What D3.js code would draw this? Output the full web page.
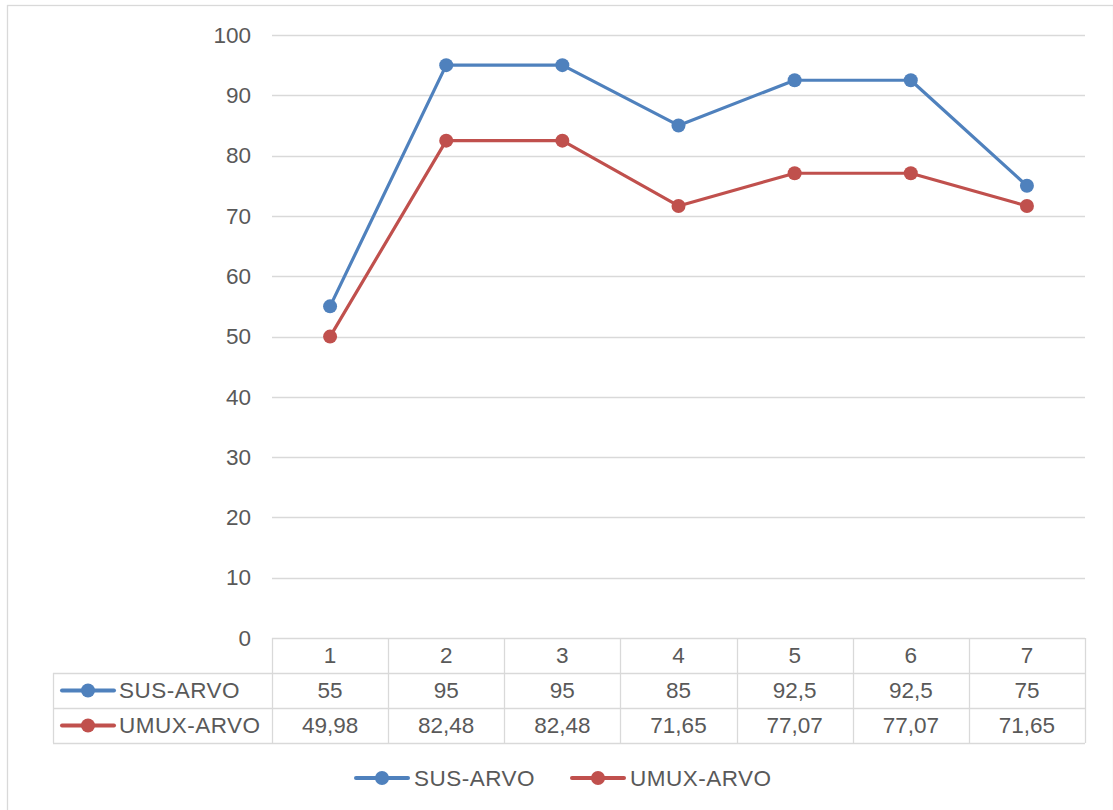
<!DOCTYPE html>
<html>
<head>
<meta charset="utf-8">
<script src="https://cdn.jsdelivr.net/npm/d3@7"></script>
<style>
  html, body { margin: 0; padding: 0; background: #fff; }
  svg { display: block; font-family: "Liberation Sans", Arial, sans-serif; }
</style>
</head>
<body>
<svg id="chart"></svg>
<script>
// data
const categories = ["1", "2", "3", "4", "5", "6", "7"];
const susValues = [55, 95, 95, 85, 92.5, 92.5, 75];
const umuxValues = [49.98, 82.48, 82.48, 71.65, 77.07, 77.07, 71.65];
const susLabels = ["55", "95", "95", "85", "92,5", "92,5", "75"];
const umuxLabels = ["49,98", "82,48", "82,48", "71,65", "77,07", "77,07", "71,65"];
const yTicks = [0, 10, 20, 30, 40, 50, 60, 70, 80, 90, 100];

const series = [
  { name: "SUS-ARVO", values: susValues, labels: susLabels, color: "#4F81BD" },
  { name: "UMUX-ARVO", values: umuxValues, labels: umuxLabels, color: "#C0504D" }
];

const W = 1113, H = 810;
const TEXT = "#595959", GRID = "#D9D9D9";
const FS = "22.5px";
const plot = { left: 272, right: 1085, top: 35, bottom: 638 };
const rowH = 35;
const tableLeft = 53;

const svg = d3.select("#chart").attr("width", W).attr("height", H);

// outer border
svg.append("rect")
  .attr("x", 7.5).attr("y", 5.5)
  .attr("width", W - 7).attr("height", H - 4)
  .attr("fill", "none").attr("stroke", GRID).attr("stroke-width", 1.3);

const x = d3.scaleBand().domain(categories).range([plot.left, plot.right]);
const y = d3.scaleLinear().domain([0, 100]).range([plot.bottom, plot.top]);

// gridlines
svg.append("g").selectAll("line")
  .data(yTicks.filter(d => d > 0))
  .join("line")
  .attr("x1", plot.left).attr("x2", plot.right)
  .attr("y1", d => Math.round(y(d)) + 0.5).attr("y2", d => Math.round(y(d)) + 0.5)
  .attr("stroke", GRID).attr("stroke-width", 1.3);

// y axis labels
const yAxis = d3.axisLeft(y).tickValues(yTicks).tickSize(0).tickPadding(21);
svg.append("g")
  .attr("transform", `translate(${plot.left},0)`)
  .call(yAxis)
  .call(g => g.select(".domain").remove())
  .call(g => g.selectAll("text").attr("fill", TEXT).style("font-size", FS)
    .attr("font-family", "Liberation Sans, Arial, sans-serif"));

// data table
const table = svg.append("g");
const colEdges = categories.map(c => x(c)).concat([plot.right]);
const tableBottom = plot.bottom + rowH * 3;

// vertical lines
table.selectAll("line.v")
  .data(colEdges)
  .join("line")
  .attr("class", "v")
  .attr("x1", d => Math.round(d) + 0.5).attr("x2", d => Math.round(d) + 0.5)
  .attr("y1", plot.bottom).attr("y2", tableBottom)
  .attr("stroke", GRID).attr("stroke-width", 1.3);
table.append("line")
  .attr("x1", tableLeft + 0.5).attr("x2", tableLeft + 0.5)
  .attr("y1", plot.bottom + rowH).attr("y2", tableBottom)
  .attr("stroke", GRID).attr("stroke-width", 1.3);

// horizontal lines
[0, 1, 2, 3].forEach(i => {
  table.append("line")
    .attr("x1", i === 0 ? plot.left : tableLeft).attr("x2", plot.right)
    .attr("y1", plot.bottom + rowH * i + 0.5).attr("y2", plot.bottom + rowH * i + 0.5)
    .attr("stroke", GRID).attr("stroke-width", 1.3);
});

// category header
table.selectAll("text.cat")
  .data(categories)
  .join("text")
  .attr("class", "cat")
  .attr("x", d => x(d) + x.bandwidth() / 2)
  .attr("y", plot.bottom + rowH / 2)
  .attr("dy", "0.35em")
  .attr("text-anchor", "middle")
  .attr("fill", TEXT).style("font-size", FS)
  .text(d => d);

// marker key helper
function drawKey(g, cx, cy, color) {
  g.append("line")
    .attr("x1", cx - 26).attr("x2", cx + 26)
    .attr("y1", cy).attr("y2", cy)
    .attr("stroke", color).attr("stroke-width", 4).attr("stroke-linecap", "round");
  g.append("circle").attr("cx", cx).attr("cy", cy).attr("r", 7).attr("fill", color);
}

series.forEach((s, i) => {
  const rowY = plot.bottom + rowH * (i + 1) + rowH / 2;
  drawKey(table, tableLeft + 35, rowY, s.color);
  table.append("text")
    .attr("x", tableLeft + 66).attr("y", rowY).attr("dy", "0.35em")
    .attr("fill", TEXT).style("font-size", FS).style("letter-spacing", "0.5px")
    .text(s.name);
  table.selectAll(null)
    .data(s.labels)
    .join("text")
    .attr("x", (d, j) => x(categories[j]) + x.bandwidth() / 2)
    .attr("y", rowY).attr("dy", "0.35em")
    .attr("text-anchor", "middle")
    .attr("fill", TEXT).style("font-size", FS)
    .text(d => d);
});

// lines
const line = d3.line()
  .x((d, i) => x(categories[i]) + x.bandwidth() / 2)
  .y(d => y(d));

series.forEach(s => {
  svg.append("path")
    .datum(s.values)
    .attr("fill", "none")
    .attr("stroke", s.color)
    .attr("stroke-width", 3.2)
    .attr("stroke-linejoin", "round")
    .attr("d", line);
  svg.append("g").selectAll("circle")
    .data(s.values)
    .join("circle")
    .attr("cx", (d, i) => x(categories[i]) + x.bandwidth() / 2)
    .attr("cy", d => y(d))
    .attr("r", 7)
    .attr("fill", s.color);
});

// legend
const legend = svg.append("g");
const legendY = 778;
const legendItems = [{ s: series[0], kx: 382 }, { s: series[1], kx: 598 }];
legendItems.forEach(({ s, kx }) => {
  drawKey(legend, kx, legendY, s.color);
  legend.append("text")
    .attr("x", kx + 32).attr("y", legendY).attr("dy", "0.35em")
    .attr("fill", TEXT).style("font-size", FS).style("letter-spacing", "0.5px")
    .text(s.name);
});
</script>
</body>
</html>
